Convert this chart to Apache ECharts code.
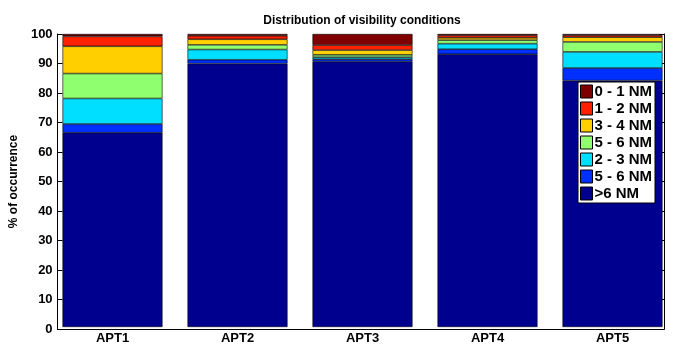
<!DOCTYPE html>
<html>
<head>
<meta charset="utf-8">
<script src="https://cdn.jsdelivr.net/npm/echarts@6/dist/echarts.min.js"></script>
<style>
  html, body { margin: 0; padding: 0; background: #fff; }
  #chart { width: 675px; height: 345px; }
</style>
</head>
<body>
<div id="chart"></div>
<script>
// Airports on the x axis
const categories = ['APT1', 'APT2', 'APT3', 'APT4', 'APT5'];

// Share of time (%) in each visibility class, stacked bottom to top
const over6NM   = [66.3, 89.9, 90.6, 93.1, 84.1];
const blue56NM  = [3.0, 1.3, 0.8, 1.7, 4.3];
const cyan23NM  = [8.7, 3.5, 0.7, 1.9, 5.5];
const green56NM = [8.5, 1.6, 0.8, 1.2, 3.4];
const yel34NM   = [9.3, 1.9, 1.6, 0.8, 1.6];
const red12NM   = [3.4, 1.2, 1.7, 0.8, 0.7];
const mar01NM   = [0.8, 0.6, 3.8, 0.5, 0.4];

// Y tick values
const yTicks = [0, 10, 20, 30, 40, 50, 60, 70, 80, 90, 100];

// Legend texts (top to bottom) and the series each one stands for
const legendKeys   = ['s01', 's12', 's34', 's56g', 's23', 's56b', 'sOver6'];
const legendLabels = ['0 - 1 NM', '1 - 2 NM', '3 - 4 NM', '5 - 6 NM', '2 - 3 NM', '5 - 6 NM', '>6 NM'];

const FONT = '"Liberation Sans", Arial, Helvetica, sans-serif';
const W = 675;
// Axes box (frame) and the category band layout: the last bar ends on the right frame
const FRAME = { left: 50, right: 11, top: 34, bottom: 16 };
const X_MIN = 0.5, X_MAX = 5.4;
const frameW = W - FRAME.left - FRAME.right;
const unitPx = frameW / (X_MAX - X_MIN);
const bandsW = unitPx * categories.length;
const BARS = { left: FRAME.left, right: W - FRAME.left - bandsW, top: FRAME.top, bottom: FRAME.bottom };

const stackDefs = [
  { key: 'sOver6', values: over6NM,   color: '#00008F' },
  { key: 's56b',   values: blue56NM,  color: '#0030FF' },
  { key: 's23',    values: cyan23NM,  color: '#00DFFF' },
  { key: 's56g',   values: green56NM, color: '#8FFF6F' },
  { key: 's34',    values: yel34NM,   color: '#FFCF00' },
  { key: 's12',    values: red12NM,   color: '#FF2000' },
  { key: 's01',    values: mar01NM,   color: '#7F0000' }
];

const series = stackDefs.map(d => ({
  name: d.key,
  type: 'bar',
  stack: 'vis',
  xAxisIndex: 0,
  yAxisIndex: 0,
  barWidth: '80%',
  data: d.values,
  itemStyle: { color: d.color, borderColor: '#000', borderWidth: 0.6 },
  emphasis: { disabled: true }
}));

const axisFont = { fontFamily: FONT, fontSize: 13, fontWeight: 'bold', color: '#000' };
const blackLine = { show: true, lineStyle: { color: '#000', width: 1 } };

const chart = echarts.init(document.getElementById('chart'), null, { renderer: 'canvas' });
chart.setOption({
  animation: false,
  backgroundColor: '#fff',
  textStyle: { fontFamily: FONT },
  title: {
    text: 'Distribution of visibility conditions',
    left: FRAME.left + frameW / 2,
    textAlign: 'center',
    top: 10,
    textStyle: { fontFamily: FONT, fontSize: 12, fontWeight: 'bold', color: '#000' }
  },
  grid: [BARS, FRAME],
  legend: {
    data: legendKeys,
    orient: 'vertical',
    left: 578,
    top: 82,
    itemWidth: 12,
    itemHeight: 13,
    itemGap: 2,
    padding: [2, 3, 2, 2],
    backgroundColor: '#fff',
    borderColor: '#000',
    borderWidth: 1,
    borderRadius: 0,
    selectedMode: false,
    icon: 'rect',
    z: 10,
    itemStyle: { borderColor: '#000', borderWidth: 1 },
    formatter: name => legendLabels[legendKeys.indexOf(name)],
    textStyle: { fontFamily: FONT, fontSize: 15, fontWeight: 'bold', color: '#000', padding: [0, 0, 0, -3] }
  },
  xAxis: [
    {
      // category axis holding the bars
      gridIndex: 0,
      type: 'category',
      data: categories,
      axisLine: { show: false },
      axisTick: { show: false },
      splitLine: { show: false },
      axisLabel: Object.assign({ margin: 5 }, axisFont)
    },
    {
      gridIndex: 1,
      type: 'value',
      position: 'bottom',
      min: X_MIN, max: X_MAX,
      splitLine: { show: false },
      axisLine: blackLine,
      axisTick: { show: false },
      axisLabel: { show: false }
    },
    {
      gridIndex: 1,
      type: 'value',
      position: 'top',
      min: X_MIN, max: X_MAX,
      splitLine: { show: false },
      axisLine: blackLine,
      axisTick: { show: false },
      axisLabel: { show: false }
    }
  ],
  yAxis: [
    {
      gridIndex: 0,
      type: 'value',
      min: yTicks[0],
      max: yTicks[yTicks.length - 1],
      interval: yTicks[1] - yTicks[0],
      show: false
    },
    {
      gridIndex: 1,
      type: 'value',
      position: 'left',
      min: yTicks[0],
      max: yTicks[yTicks.length - 1],
      interval: yTicks[1] - yTicks[0],
      name: '% of occurrence',
      nameLocation: 'middle',
      nameGap: 29,
      nameTextStyle: { fontFamily: FONT, fontSize: 12, fontWeight: 'bold', color: '#000' },
      splitLine: { show: false },
      axisLine: blackLine,
      axisTick: { show: true, inside: true, length: 5, lineStyle: { color: '#000' } },
      axisLabel: Object.assign({ margin: 5 }, axisFont)
    },
    {
      gridIndex: 1,
      type: 'value',
      position: 'right',
      min: yTicks[0],
      max: yTicks[yTicks.length - 1],
      interval: yTicks[1] - yTicks[0],
      splitLine: { show: false },
      axisLine: blackLine,
      axisTick: { show: true, inside: true, length: 5, lineStyle: { color: '#000' } },
      axisLabel: { show: false }
    }
  ],
  series: series
});
</script>
</body>
</html>
